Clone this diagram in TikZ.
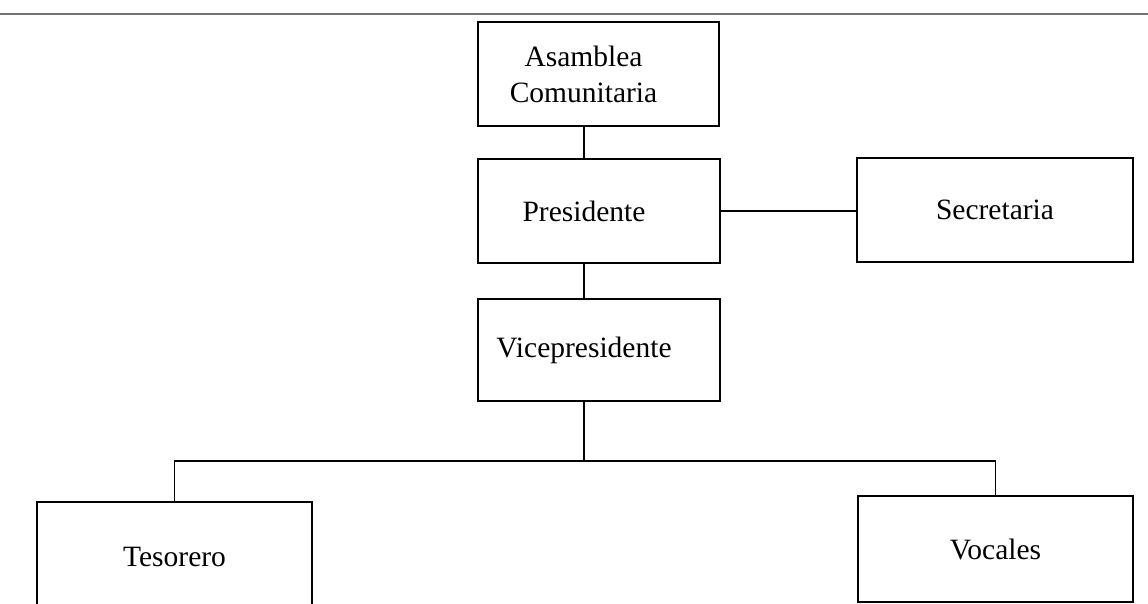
\documentclass[tikz,border=0pt]{standalone}
\usepackage{fontspec}
\setmainfont{Liberation Serif}
\begin{document}
\begin{tikzpicture}[x=1pt,y=-1pt,
  box/.style={draw=black, line width=2.8pt, rectangle, inner sep=0pt,
    font=\fontsize{29.5}{36}\selectfont, align=center},
  conn/.style={draw=black, line width=1.7pt},
  topline/.style={draw=black!55, line width=2.6pt}]
\useasboundingbox (0,0) rectangle (1148,603);
\clip (0,0) rectangle (1148,603);
\fill[white] (0,0) rectangle (1148,603);
\draw[topline] (0,14) -- (1148,14);

\node[box, minimum width=241pt, minimum height=104pt] (asm) at (598.5,74)
  {\hspace*{-30pt}Asamblea\\\hspace*{-30pt}Comunitaria};
\node[box, minimum width=242pt, minimum height=104pt] (pres) at (599,211)
  {\hspace*{-30pt}Presidente};
\node[box, minimum width=276pt, minimum height=104pt] (sec) at (995,210)
  {Secretaria};
\node[box, minimum width=242pt, minimum height=102pt] (vice) at (599,350)
  {\hspace*{-30pt}Vicepresidente};
\node[box, minimum width=275pt, minimum height=110pt] (tes) at (174.5,557)
  {Tesorero};
\node[box, minimum width=275pt, minimum height=106pt] (voc) at (995.5,549)
  {Vocales};

\coordinate (trunk) at (584,461);
\draw[conn] (asm.south -| trunk) -- (pres.north -| trunk);
\draw[conn] (pres.south -| trunk) -- (vice.north -| trunk);
\draw[conn] (pres.east) -- (sec.west |- pres.east);
\draw[conn] (vice.south -| trunk) -- (trunk);
\draw[conn] (tes.north) |- (trunk) -| (voc.north);
\end{tikzpicture}
\end{document}
